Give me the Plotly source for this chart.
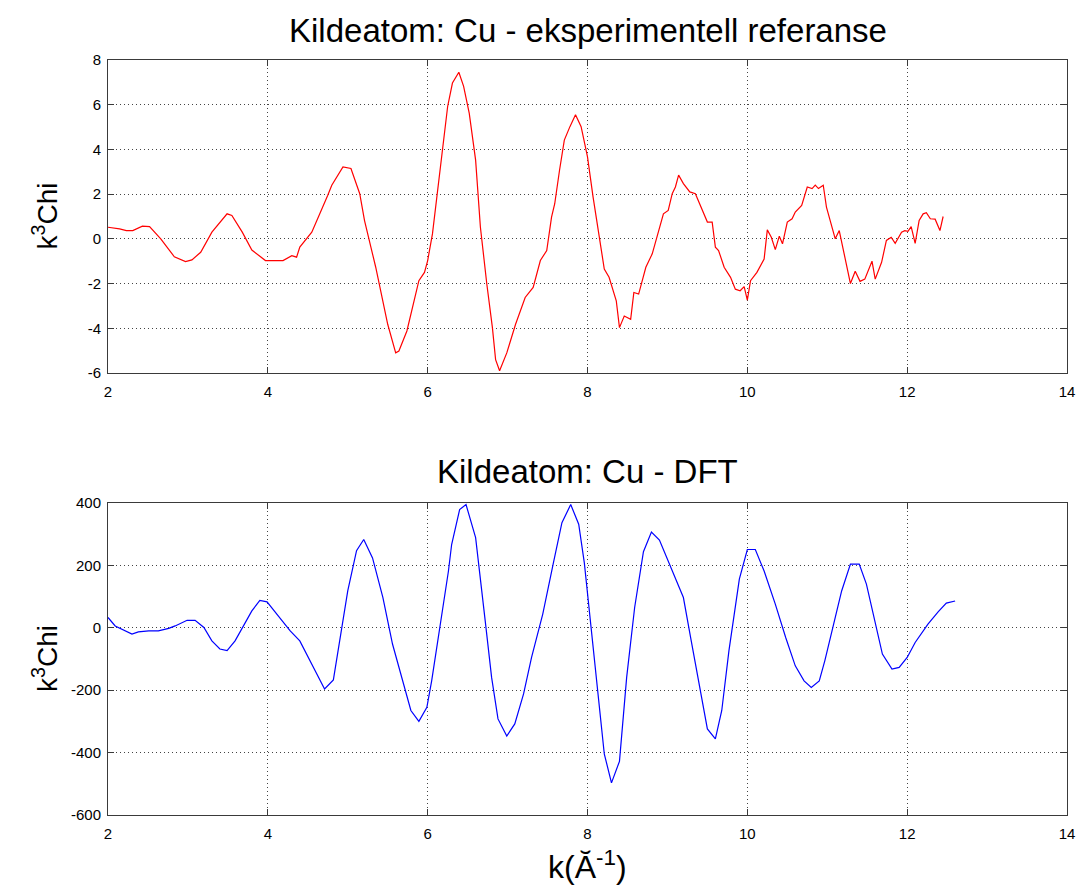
import plotly.graph_objects as go

# ---- data: experimental reference (top) ----
k_exp = [2.0, 2.145, 2.23, 2.31, 2.43, 2.52, 2.66, 2.83, 2.97, 3.05, 3.16, 3.3, 3.49, 3.55, 3.68, 3.8,
         3.97, 4.19, 4.3, 4.36, 4.4, 4.55, 4.75, 4.8, 4.94, 5.04, 5.15, 5.21, 5.35, 5.5, 5.6, 5.64,
         5.74, 5.81, 5.89, 5.96, 6.0, 6.06, 6.12, 6.19, 6.25, 6.31, 6.39, 6.45, 6.52, 6.6, 6.66, 6.74,
         6.81, 6.85, 6.9, 6.99, 7.1, 7.22, 7.32, 7.41, 7.49, 7.55, 7.59, 7.65, 7.71, 7.78, 7.85, 7.92,
         8.0, 8.07, 8.15, 8.21, 8.27, 8.36, 8.4, 8.46, 8.54, 8.58, 8.64, 8.73, 8.81, 8.89, 8.95, 9.01,
         9.06, 9.1, 9.14, 9.2, 9.28, 9.35, 9.44, 9.5, 9.56, 9.6, 9.64, 9.71, 9.79, 9.85, 9.91, 9.96,
         10.0, 10.04, 10.12, 10.21, 10.25, 10.3, 10.35, 10.4, 10.44, 10.5, 10.56, 10.6, 10.68, 10.75,
         10.81, 10.85, 10.89, 10.95, 10.99, 11.1, 11.15, 11.2, 11.24, 11.29, 11.35, 11.41, 11.47,
         11.56, 11.6, 11.68, 11.74, 11.8, 11.85, 11.93, 11.97, 12.01, 12.05, 12.1, 12.15, 12.2,
         12.24, 12.29, 12.35, 12.41, 12.45]
chi_exp = [0.52, 0.45, 0.37, 0.37, 0.57, 0.55, 0.0, -0.8, -1.02, -0.94, -0.6, 0.3, 1.12, 1.05, 0.3, -0.5,
           -0.97, -0.97, -0.75, -0.82, -0.37, 0.3, 1.95, 2.4, 3.22, 3.15, 2.02, 0.82, -1.27, -3.82, -5.1, -5.02,
           -4.12, -3.07, -1.87, -1.5, -0.97, 0.22, 2.02, 3.97, 5.92, 6.97, 7.45, 6.82, 5.62, 3.52, 0.52, -2.02,
           -3.97, -5.4, -5.9, -5.1, -3.82, -2.62, -2.17, -0.97, -0.52, 0.97, 1.57, 3.07, 4.42, 5.02, 5.55, 5.02,
           3.67, 1.87, 0.07, -1.35, -1.72, -2.77, -3.97, -3.45, -3.6, -2.4, -2.47, -1.27, -0.67, 0.3, 1.12, 1.27,
           2.02, 2.32, 2.85, 2.47, 2.1, 2.02, 1.27, 0.75, 0.75, -0.37, -0.52, -1.27, -1.72, -2.25, -2.32, -2.14,
           -2.74, -1.87, -1.5, -0.9, 0.4, 0.07, -0.48, 0.12, -0.22, 0.75, 0.9, 1.2, 1.5, 2.32,
           2.25, 2.4, 2.25, 2.4, 1.42, 0.0, 0.37, -0.52, -1.12, -2.0, -1.45, -1.9, -1.8,
           -1.0, -1.8, -1.05, -0.07, 0.07, -0.2, 0.3, 0.37, 0.34, 0.55, -0.2, 0.82, 1.12,
           1.17, 0.9, 0.88, 0.37, 1.0]

# ---- data: DFT (bottom) ----
k_dft = [2.0, 2.09, 2.3, 2.38, 2.51, 2.63, 2.76, 2.84, 2.99, 3.09, 3.2, 3.3, 3.4, 3.49, 3.59, 3.7, 3.8,
         3.9, 3.99, 4.13, 4.28, 4.4, 4.55, 4.71, 4.82, 4.92, 5.0, 5.11, 5.2, 5.31, 5.44, 5.56, 5.69, 5.79,
         5.89, 5.99, 6.05, 6.16, 6.26, 6.3, 6.4, 6.48, 6.6, 6.72, 6.8, 6.88, 6.99, 7.09, 7.2, 7.3, 7.44,
         7.57, 7.68, 7.79, 7.89, 7.96, 8.05, 8.13, 8.21, 8.3, 8.4, 8.49, 8.59, 8.7, 8.8, 8.9, 9.06, 9.2,
         9.29, 9.4, 9.5, 9.6, 9.68, 9.77, 9.9, 10.0, 10.1, 10.21, 10.35, 10.48, 10.6, 10.71, 10.8, 10.9,
         10.97, 11.08, 11.18, 11.29, 11.4, 11.49, 11.6, 11.69, 11.81, 11.9, 12.0, 12.1, 12.26, 12.39,
         12.49, 12.6]
chi_dft = [33, 6, -20, -13, -10, -10, -2, 6, 24, 24, 1, -42, -68, -73, -42, 6, 54,
           88, 83, 38, -10, -42, -116, -196, -167, -10, 118, 247, 283, 224, 97, -52, -170, -265,
           -300, -255, -170, 12, 182, 267, 379, 395, 289, 22, -159, -292, -347, -308, -212, -95, 44,
           204, 337, 395, 332, 209, -10, -202, -404, -497, -428, -159, 65, 244, 307, 281, 182, 97,
           -31, -180, -324, -356, -265, -73, 156, 251, 251, 182, 76, -31, -122, -170, -191, -170,
           -105, 12, 118, 204, 204, 140, 12, -84, -132, -127, -95, -47, 12, 52,
           79, 86]

x_ticks = [2, 4, 6, 8, 10, 12, 14]
y_ticks_top = [-6, -4, -2, 0, 2, 4, 6, 8]
y_ticks_bot = [-600, -400, -200, 0, 200, 400]

title_top = "Kildeatom: Cu - eksperimentell referanse"
title_bot = "Kildeatom: Cu - DFT"
y_label = "k<sup>3</sup>Chi"
x_label = "k(Ă<sup>-1</sup>)"

FONT = "Liberation Sans, Arial, Helvetica, sans-serif"

fig = go.Figure()
fig.add_trace(go.Scatter(x=k_exp, y=chi_exp, mode="lines",
                         line=dict(color="rgb(255,0,0)", width=1.2), xaxis="x", yaxis="y",
                         showlegend=False, hoverinfo="skip"))
fig.add_trace(go.Scatter(x=k_dft, y=chi_dft, mode="lines",
                         line=dict(color="rgb(0,0,255)", width=1.2), xaxis="x2", yaxis="y2",
                         showlegend=False, hoverinfo="skip"))

W, H = 1087, 893
ml, mr, mt, mb = 108, 13, 60, 78
ph = H - mt - mb
top_dom = [1 - (373 - mt) / ph, 1.0]
bot_dom = [0.0, 1 - (503 - mt) / ph]

ax_common = dict(showline=True, mirror="ticks", linecolor="#3a3a3a", linewidth=1,
                 ticks="inside", ticklen=6, tickcolor="#3a3a3a", tickwidth=1,
                 showgrid=True, gridcolor="#444444", gridwidth=1, griddash="1px,3px",
                 zeroline=False, tickfont=dict(family=FONT, size=15, color="black"))

def labels(vals):
    return [str(v) for v in vals]

fig.update_layout(
    width=W, height=H,
    margin=dict(l=ml, r=mr, t=mt, b=mb),
    paper_bgcolor="white", plot_bgcolor="white",
    font=dict(family=FONT, color="black"),
    xaxis=dict(domain=[0, 1], anchor="y", range=[2, 14], tickvals=x_ticks,
               ticktext=labels(x_ticks), ticklabelstandoff=5, **ax_common),
    yaxis=dict(domain=top_dom, anchor="x", range=[-6, 8], tickvals=y_ticks_top,
               ticktext=labels(y_ticks_top), ticklabelstandoff=3, **ax_common),
    xaxis2=dict(domain=[0, 1], anchor="y2", range=[2, 14], tickvals=x_ticks,
                ticktext=labels(x_ticks), ticklabelstandoff=5, **ax_common),
    yaxis2=dict(domain=bot_dom, anchor="x2", range=[-600, 400], tickvals=y_ticks_bot,
                ticktext=labels(y_ticks_bot), ticklabelstandoff=3, **ax_common),
)

ann = []
ann.append(dict(text=title_top, xref="paper", yref="y domain", x=0.5, y=1, yshift=30,
                xanchor="center", yanchor="middle", showarrow=False,
                font=dict(family=FONT, size=33, color="black")))
ann.append(dict(text=title_bot, xref="paper", yref="y2 domain", x=0.5, y=1, yshift=32,
                xanchor="center", yanchor="middle", showarrow=False,
                font=dict(family=FONT, size=33, color="black")))
ann.append(dict(text=y_label, xref="paper", yref="y domain", x=0, xshift=-63, y=0.5,
                xanchor="center", yanchor="middle", textangle=-90, showarrow=False,
                font=dict(family=FONT, size=28, color="black")))
ann.append(dict(text=y_label, xref="paper", yref="y2 domain", x=0, xshift=-63, y=0.5,
                xanchor="center", yanchor="middle", textangle=-90, showarrow=False,
                font=dict(family=FONT, size=28, color="black")))
ann.append(dict(text=x_label, xref="paper", yref="y2 domain", x=0.5, y=0, yshift=-50,
                xanchor="center", yanchor="middle", showarrow=False,
                font=dict(family=FONT, size=32, color="black")))
fig.update_layout(annotations=ann)

fig.write_html("out.html")
